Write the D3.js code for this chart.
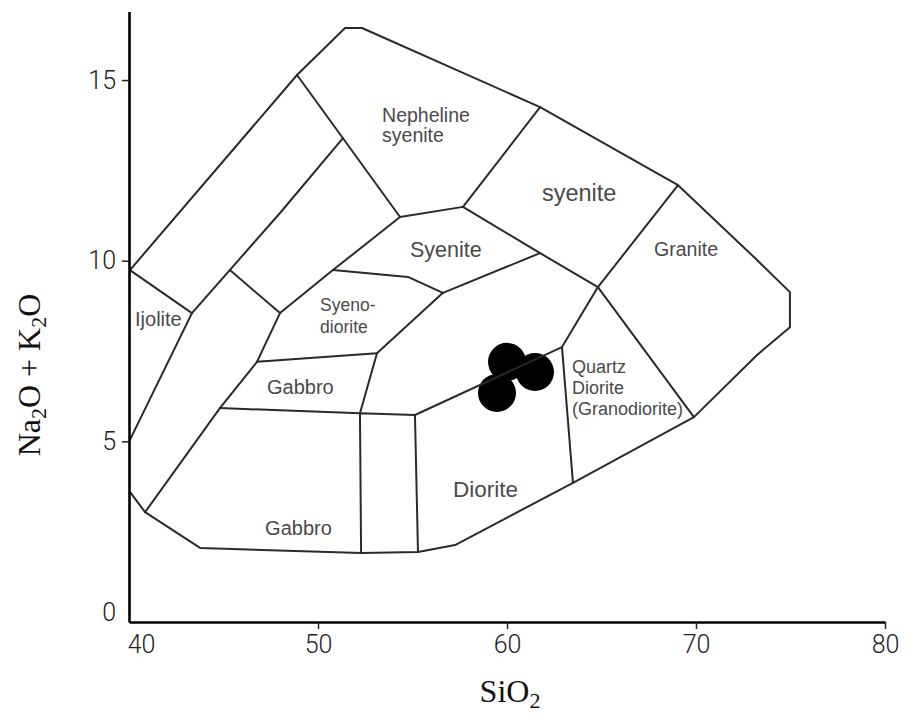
<!DOCTYPE html>
<html>
<head>
<meta charset="utf-8">
<script src="https://cdn.jsdelivr.net/npm/d3@7"></script>
<style>
  html, body { margin: 0; padding: 0; background: #fff; }
  svg { display: block; }
</style>
</head>
<body>
<svg id="chart" width="911" height="716"></svg>
<script>
// ---------------- data (SiO2 wt%, Na2O+K2O wt%) ----------------
const sio2Ticks = [40, 50, 60, 70, 80];
const alkaliTicks = [0, 5, 10, 15];

// outer field boundary (open on the y-axis side)
const outerBoundary = [
  [40.05, 9.74], [48.89, 15.14], [51.43, 16.44], [52.33, 16.44], [61.75, 14.25],
  [69.05, 12.09], [73.23, 10.02], [74.97, 9.13], [74.97, 8.16], [73.23, 7.39],
  [69.89, 5.67], [63.49, 3.85], [57.25, 2.13], [55.29, 1.94], [52.28, 1.91],
  [43.76, 2.05], [40.85, 3.04], [40.05, 3.60]
];

// internal field boundaries
const fieldLines = [
  [[40.05, 9.74], [43.33, 8.55]],
  [[40.05, 5.04], [43.33, 8.55], [47.99, 11.32], [51.32, 13.39]],
  [[48.89, 15.14], [51.32, 13.39], [54.34, 11.21]],
  [[45.34, 9.74], [47.99, 8.55]],
  [[47.99, 8.55], [50.79, 9.74], [54.34, 11.21]],
  [[50.79, 9.74], [54.76, 9.55], [56.61, 9.11]],
  [[54.34, 11.21], [57.67, 11.49]],
  [[57.67, 11.49], [61.75, 14.25]],
  [[57.67, 11.49], [61.75, 10.21], [64.81, 9.27]],
  [[56.61, 9.11], [61.75, 10.21]],
  [[64.81, 9.27], [69.05, 12.09]],
  [[64.81, 9.27], [69.89, 5.67]],
  [[64.81, 9.27], [62.91, 7.61], [63.49, 3.85]],
  [[62.91, 7.61], [55.13, 5.73], [55.29, 1.94]],
  [[55.13, 5.73], [52.22, 5.78], [52.28, 1.91]],
  [[52.22, 5.78], [53.12, 7.44], [56.61, 9.11]],
  [[46.77, 7.20], [53.12, 7.44]],
  [[47.99, 8.55], [46.77, 7.20], [44.81, 5.92], [40.85, 3.04]],
  [[44.81, 5.92], [52.22, 5.78]]
];

// field names: text lines, anchor (SiO2, alkali of first baseline)
const fieldNames = [
  { key: "neph",  lines: ["Nepheline", "syenite"], at: [53.39, 13.84] },
  { key: "sy1",   lines: ["syenite"],              at: [61.85, 11.65] },
  { key: "sy2",   lines: ["Syenite"],              at: [54.87, 10.10] },
  { key: "gran",  lines: ["Granite"],              at: [67.78, 10.13] },
  { key: "syd",   lines: ["Syeno-", "diorite"],    at: [50.11, 8.61] },
  { key: "ijo",   lines: ["Ijolite"],              at: [40.32, 8.19] },
  { key: "gab1",  lines: ["Gabbro"],               at: [47.30, 6.31] },
  { key: "gab2",  lines: ["Gabbro"],               at: [47.20, 2.41] },
  { key: "dio",   lines: ["Diorite"],              at: [57.14, 3.46] },
  { key: "qd",    lines: ["Quartz", "Diorite", "(Granodiorite)"], at: [63.44, 6.89] }
];

// samples
const sampleSiO2   = [60.00, 59.47, 61.48];
const sampleAlkali = [7.20, 6.34, 6.92];

// ---------------- styles ----------------
const labelSize = { neph: 19.5, sy1: 23.5, sy2: 21.5, gran: 19.5, syd: 17.5, ijo: 20,
                    gab1: 20, gab2: 20, dio: 22.5, qd: 18 };
const lineStep = { neph: 20, syd: 22, qd: 21 };

// ---------------- drawing ----------------
const svg = d3.select("#chart");
const x = d3.scaleLinear().domain([40, 80]).range([129, 885]);
const y = d3.scaleLinear().domain([0, 16.9]).range([622, 11.4]);

const line = d3.line().x(d => x(d[0])).y(d => y(d[1]));

// samples (drawn under boundary lines, as in the reference)
svg.append("g").selectAll("circle")
  .data(sampleSiO2.map((s, i) => [s, sampleAlkali[i]]))
  .join("circle")
  .attr("cx", d => x(d[0]))
  .attr("cy", d => y(d[1]))
  .attr("r", 19)
  .attr("fill", "#000");

const gLines = svg.append("g")
  .attr("fill", "none")
  .attr("stroke", "#2a2a2a")
  .attr("stroke-width", 2)
  .attr("stroke-linejoin", "round")
  .attr("stroke-linecap", "round");

gLines.append("path").attr("d", line(outerBoundary));
gLines.selectAll("path.f").data(fieldLines).join("path")
  .attr("class", "f")
  .attr("d", d => line(d));

// field labels
const gLab = svg.append("g")
  .attr("font-family", "'Liberation Sans', Arial, sans-serif")
  .attr("fill", "#4a4a4a");
fieldNames.forEach(f => {
  const t = gLab.append("text")
    .attr("x", x(f.at[0]))
    .attr("y", y(f.at[1]))
    .attr("font-size", labelSize[f.key]);
  f.lines.forEach((s, i) => {
    t.append("tspan")
      .attr("x", x(f.at[0]))
      .attr("dy", i === 0 ? 0 : lineStep[f.key])
      .text(s);
  });
});

// axes
const xAxis = d3.axisBottom(x).tickValues(sio2Ticks).tickSize(7).tickSizeOuter(0).tickPadding(8)
  .tickFormat(d3.format("d"));
const yAxis = d3.axisLeft(y).tickValues(alkaliTicks).tickSize(7).tickSizeOuter(0).tickPadding(6)
  .tickFormat(d3.format("d"));

const gx = svg.append("g").attr("transform", `translate(0,${y(0)})`).call(xAxis);
const gy = svg.append("g").attr("transform", `translate(${x(40)},0)`).call(yAxis);

[gx, gy].forEach(g => {
  g.select(".domain").attr("stroke", "#000").attr("stroke-width", 2.6);
  g.selectAll(".tick line").attr("stroke", "#222").attr("stroke-width", 1.5);
  g.selectAll(".tick text")
    .attr("font-family", "Roboto, 'Liberation Sans', sans-serif")
    .attr("font-weight", 300)
    .attr("font-size", 25)
    .attr("fill", "#222");
});
gx.selectAll(".tick").filter(d => d === 40).select("line").remove();
gx.selectAll(".tick").filter(d => d === 40).select("text").attr("dx", 12);
gx.selectAll(".tick text").attr("dy", "0.62em");
gy.selectAll(".tick").filter(d => d === 0).select("line").remove();
gy.selectAll(".tick").filter(d => d === 0).select("text").attr("dy", "-0.05em");

// axis titles
const serif = "'Liberation Serif', 'Times New Roman', serif";
const xt = svg.append("text")
  .attr("x", 510).attr("y", 702)
  .attr("text-anchor", "middle")
  .attr("font-family", serif).attr("font-size", 32).attr("fill", "#111");
xt.append("tspan").text("SiO");
xt.append("tspan").attr("font-size", 22).attr("dy", 6).text("2");

const yt = svg.append("text")
  .attr("transform", "translate(40,375) rotate(-90)")
  .attr("text-anchor", "middle")
  .attr("font-family", serif).attr("font-size", 32).attr("fill", "#111");
yt.append("tspan").text("Na");
yt.append("tspan").attr("font-size", 22).attr("dy", 6).text("2");
yt.append("tspan").attr("dy", -6).text("O + K");
yt.append("tspan").attr("font-size", 22).attr("dy", 6).text("2");
yt.append("tspan").attr("dy", -6).text("O");
</script>
</body>
</html>
